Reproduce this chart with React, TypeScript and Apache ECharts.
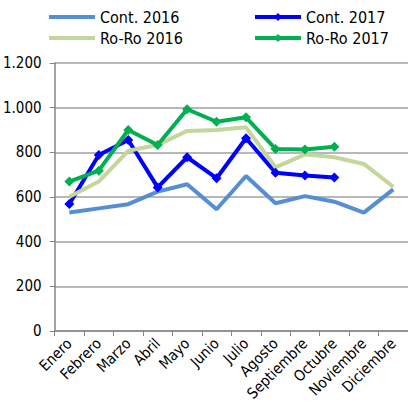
import React, { useEffect, useRef } from "react";
import * as echarts from "echarts";

const months = ["Enero", "Febrero", "Marzo", "Abril", "Mayo", "Junio", "Julio", "Agosto", "Septiembre", "Octubre", "Noviembre", "Diciembre"];
const cont2016 = [531, 549, 568, 624, 657, 545, 694, 572, 604, 579, 530, 634];
const cont2017 = [569, 788, 855, 643, 778, 684, 863, 709, 696, 687, null, null];
const roro2016 = [601, 669, 807, 833, 896, 900, 912, 733, 791, 778, 748, 646];
const roro2017 = [669, 718, 900, 833, 993, 937, 957, 815, 813, 825, null, null];

const FONT = "'DejaVu Sans Condensed', 'DejaVu Sans', sans-serif";

export default function App() {
  const ref = useRef<HTMLDivElement>(null);
  useEffect(() => {
    const chart = echarts.init(ref.current!, null, { renderer: "svg" });
    const legendBase = {
      orient: "vertical" as const,
      top: 9,
      itemWidth: 46,
      itemHeight: 10,
      itemGap: 5,
      padding: 0,
      lineStyle: { width: 4 },
      textStyle: { fontFamily: FONT, fontSize: 16, color: "#000", lineHeight: 15 },
    };
    chart.setOption({
      animation: false,
      backgroundColor: "#fff",
      legend: [
        {
          ...legendBase,
          left: 47,
          data: [
            { name: "Cont. 2016", itemStyle: { opacity: 0 } },
            { name: "Ro-Ro 2016", itemStyle: { opacity: 0 } },
          ],
        },
        { ...legendBase, left: 253, data: ["Cont. 2017", "Ro-Ro 2017"] },
      ],
      grid: { left: 52, top: 63, width: 360, height: 268, containLabel: false },
      xAxis: {
        type: "category",
        data: months,
        boundaryGap: true,
        axisLine: { lineStyle: { color: "#868686", width: 1.5 } },
        axisTick: { show: true, length: 5, lineStyle: { color: "#868686" } },
        axisLabel: { rotate: 45, interval: 0, margin: 10, fontFamily: FONT, fontSize: 15, color: "#000" },
      },
      yAxis: {
        type: "value",
        min: 0,
        max: 1200,
        interval: 200,
        axisLine: { show: true, lineStyle: { color: "#868686", width: 1.5 } },
        axisTick: { show: true, length: 5, lineStyle: { color: "#868686" } },
        splitLine: { lineStyle: { color: "#A0A0A0", width: 1.5 } },
        axisLabel: {
          margin: 13,
          fontFamily: FONT,
          fontSize: 15,
          color: "#000",
          formatter: (v: number) => String(v).replace(/\B(?=(\d{3})+(?!\d))/g, "."),
        },
      },
      series: [
        { name: "Cont. 2016", type: "line", data: cont2016, symbol: "none", color: "#558ED5", lineStyle: { width: 4 } },
        { name: "Cont. 2017", type: "line", data: cont2017, symbol: "diamond", symbolSize: 10, color: "#0000FF", lineStyle: { width: 4 } },
        { name: "Ro-Ro 2016", type: "line", data: roro2016, symbol: "none", color: "#C3D69B", lineStyle: { width: 4 } },
        { name: "Ro-Ro 2017", type: "line", data: roro2017, symbol: "diamond", symbolSize: 10, color: "#00B050", lineStyle: { width: 4 } },
      ],
    });
    return () => chart.dispose();
  }, []);
  return <div ref={ref} style={{ position: "fixed", left: 0, top: 0, width: 408, height: 407 }} />;
}
